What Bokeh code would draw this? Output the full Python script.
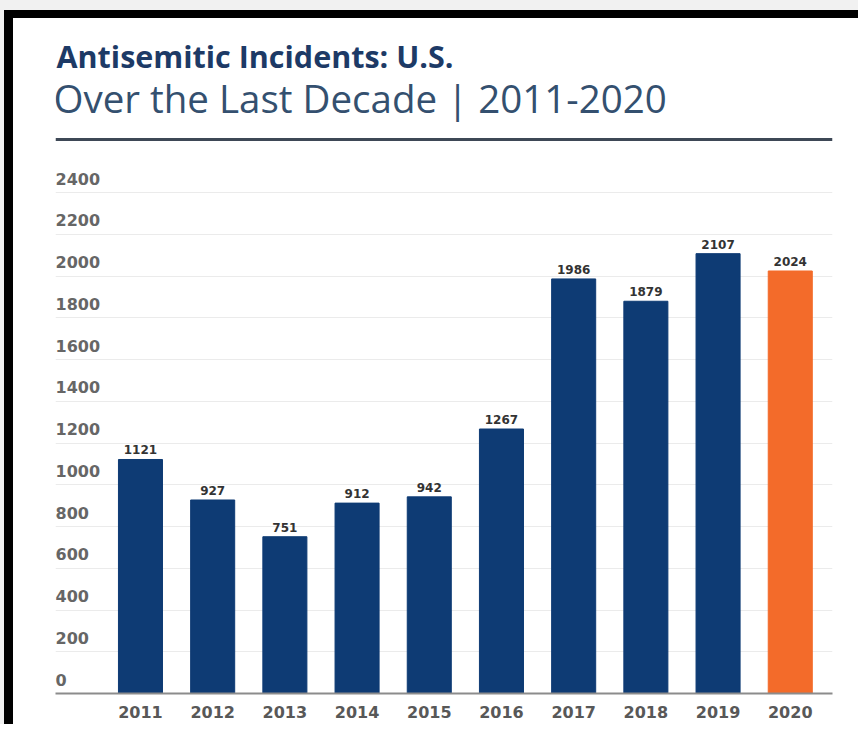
from bokeh.plotting import figure
from bokeh.models import (Range1d, FixedTicker, ColumnDataSource, LabelSet,
                          Label, Span)
from bokeh.core.properties import value
from bokeh.embed import file_html
from bokeh.resources import INLINE

years = ["2011", "2012", "2013", "2014", "2015", "2016", "2017", "2018", "2019", "2020"]
incidents = [1121, 927, 751, 912, 942, 1267, 1986, 1879, 2107, 2024]
bar_colors = ["#0e3b74"] * 9 + ["#f36b2a"]
y_ticks = [0, 200, 400, 600, 800, 1000, 1200, 1400, 1600, 1800, 2000, 2200, 2400]
title_main = "Antisemitic Incidents: U.S."
title_sub = "Over the Last Decade | 2011-2020"

W, H = 845, 706          # white card, placed 13px / 18px from the page corner
BOTTOM = 31              # room for the year labels
x_start, x_end = -1.177, 9.585
px_per_unit = 41.75 / 200.0            # vertical pixels per incident
frame_h = H - BOTTOM
y_end = frame_h / px_per_unit          # frame reaches the top of the card

p = figure(width=W, height=H, output_backend="svg", toolbar_location=None,
           x_range=Range1d(x_start, x_end), y_range=Range1d(0, y_end),
           min_border_left=42, min_border_right=26, min_border_top=0,
           min_border_bottom=BOTTOM, background_fill_color="white",
           border_fill_color="white", outline_line_color=None, title=None)

src = ColumnDataSource(dict(x=list(range(len(years))), year=years, v=incidents,
                            lab=[str(v) for v in incidents], c=bar_colors))
p.vbar(x="x", top="v", bottom=0, width=0.61, color="c", source=src)

p.add_layout(LabelSet(x="x", y="v", text="lab", source=src, text_align="center",
                      text_baseline="alphabetic", y_offset=5,
                      text_font=value("DejaVu Sans"), text_font_style="bold",
                      text_font_size="12px", text_color="#333333"))

tsrc = ColumnDataSource(dict(x=[x_start] * len(y_ticks), y=y_ticks,
                             t=[str(t) for t in y_ticks]))
p.add_layout(LabelSet(x="x", y="y", text="t", source=tsrc, text_align="left",
                      text_baseline="alphabetic", y_offset=8,
                      text_font=value("DejaVu Sans"), text_font_style="bold",
                      text_font_size="16px", text_color="#666666"))

p.yaxis.visible = False
p.xgrid.visible = False
p.ygrid.ticker = FixedTicker(ticks=y_ticks[1:])
p.ygrid.grid_line_color = "#ebebeb"
p.ygrid.grid_line_width = 1

xa = p.xaxis[0]
xa.ticker = FixedTicker(ticks=list(range(len(years))))
xa.major_label_overrides = {i: y for i, y in enumerate(years)}
xa.major_tick_line_color = None
xa.minor_tick_line_color = None
xa.axis_line_color = "#8c8c8c"
xa.axis_line_width = 2
xa.major_label_standoff = 6
xa.major_label_text_font = "DejaVu Sans"
xa.major_label_text_font_style = "bold"
xa.major_label_text_font_size = "16px"
xa.major_label_text_color = "#585858"

# heading, placed in pixels below the top of the card
p.add_layout(Label(x=x_start, y=y_end, x_offset=1, y_offset=-37, text=title_main,
                   text_font="Open Sans", text_font_style="bold", text_font_size="30.5px",
                   text_color="#1d3a66", text_baseline="alphabetic"))
p.add_layout(Label(x=x_start, y=y_end, x_offset=-2, y_offset=-79, text=title_sub,
                   text_font="Open Sans", text_font_style="normal", text_font_size="38.5px",
                   text_color="#34506f", text_baseline="alphabetic"))
# rule under the heading (121 px below the top of the card)
p.add_layout(Span(location=y_end - 121 / px_per_unit, dimension="width",
                  line_color="#3e4856", line_width=3))

# page frame: black border and light gray margin drawn as shadows of the card
p.margin = (18, 0, 0, 13)
p.styles = {"box-shadow": ", ".join([
    "-9px -8px 0 0 #000000", "0 -8px 0 0 #000000", "-9px 0 0 0 #000000",
    "-13px -18px 0 0 #f1f1f1", "0 -18px 0 0 #f1f1f1", "-13px 0 0 0 #f1f1f1"])}

open("out.html", "w").write(file_html(p, INLINE))
